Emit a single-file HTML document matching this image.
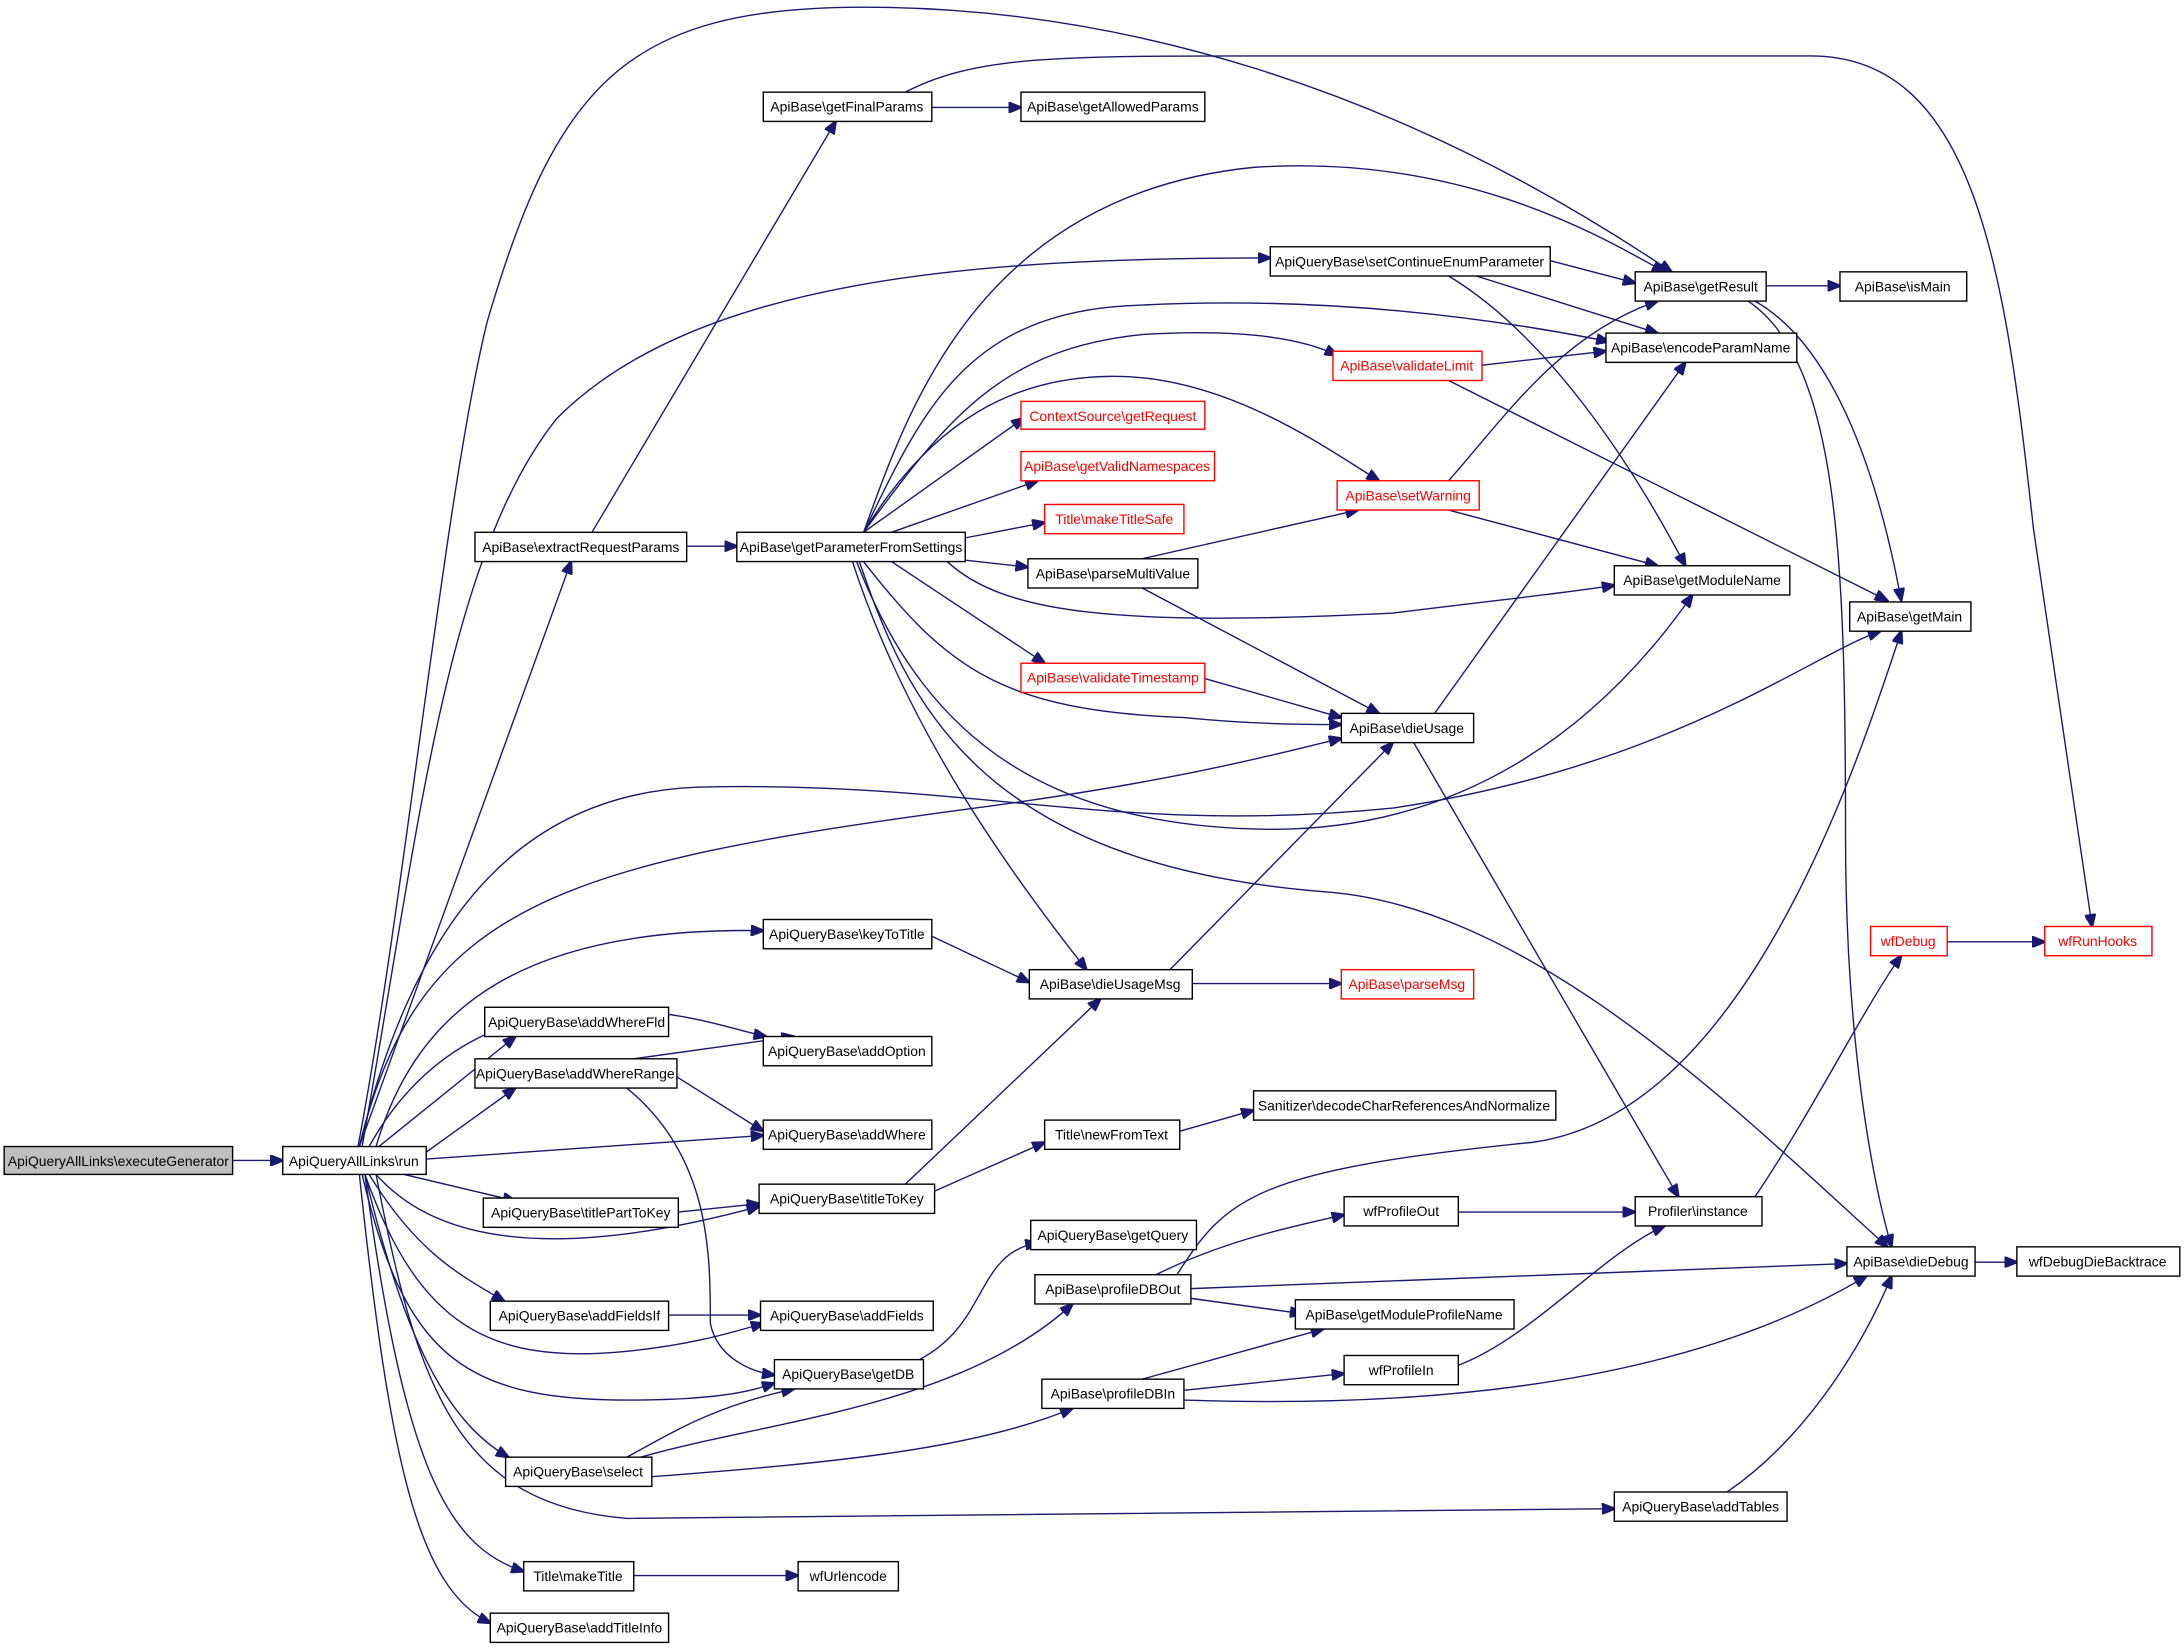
<!DOCTYPE html>
<html><head><meta charset="utf-8"><style>
html,body{margin:0;padding:0;background:#fff;}
svg{display:block;}
text{font-family:"Liberation Sans",sans-serif;font-size:10px;text-anchor:middle;fill:#000;}
.r text{fill:#f00;}
rect{fill:#fff;stroke:#000;stroke-width:1;}
.r rect{stroke:#f00;}
path{fill:none;stroke:#191970;stroke-width:1;marker-end:url(#a);}
</style></head><body>
<svg width="2184" height="1651" viewBox="0 0 1568 1185" xmlns="http://www.w3.org/2000/svg">
<defs><marker id="a" markerWidth="10" markerHeight="8" refX="9" refY="4" orient="auto" markerUnits="userSpaceOnUse"><polygon points="0,0 10,4 0,8" fill="#191970" stroke="#191970"/></marker></defs>
<g>
<path d="M167,833 L203,833"/>
<path d="M258,823 L410,403"/>
<path d="M257,823 C290,650 320,350 350,230 C400,60 450,5 620,5 C800,5 1000,60 1200,195"/>
<path d="M650,66 C700,40 760,40 900,40 L1300,40 C1420,40 1440,200 1460,380 C1480,520 1495,620 1502,665"/>
<path d="M669,77 L733,77"/>
<path d="M425,382 L600,87"/>
<path d="M493,392 L529,392"/>
<path d="M260,823 C300,600 320,400 400,300 C500,200 700,185 912,185"/>
<path d="M1113,187 L1174,203"/>
<path d="M1060,198 L1190,239"/>
<path d="M1040,198 C1110,240 1170,330 1210,406"/>
<path d="M620,382 C650,300 700,140 900,120 C1050,110 1150,170 1195,195"/>
<path d="M620,382 C660,300 690,230 800,220 C950,210 1080,230 1155,245"/>
<path d="M620,382 C680,300 720,250 820,240 C900,235 940,245 960,255"/>
<path d="M620,382 C670,300 730,270 800,270 C880,270 950,320 990,345"/>
<path d="M620,382 L735,300"/>
<path d="M640,382 L745,345"/>
<path d="M693,386 L750,375"/>
<path d="M693,402 L738,407"/>
<path d="M680,403 C720,440 800,450 1000,440 C1080,430 1130,425 1159,420"/>
<path d="M640,403 L750,476"/>
<path d="M620,403 C680,480 720,510 850,515 C900,520 940,520 963,520"/>
<path d="M615,403 C660,520 740,590 900,595 C1050,600 1150,520 1215,427"/>
<path d="M617,403 C650,500 700,620 950,640 C1100,650 1250,800 1355,895"/>
<path d="M612,403 C650,520 720,620 780,696"/>
<path d="M258,823 C300,650 380,570 500,565 C700,560 800,600 1000,580 C1200,550 1300,470 1350,453"/>
<path d="M258,823 C300,650 400,620 700,580 C850,560 920,540 963,530"/>
<path d="M820,401 L975,366"/>
<path d="M820,422 L990,512"/>
<path d="M865,487 L963,515"/>
<path d="M1064,262 L1153,252"/>
<path d="M1040,273 L1355,431"/>
<path d="M1040,345 C1080,300 1120,240 1190,216"/>
<path d="M1040,366 L1190,406"/>
<path d="M1030,512 L1210,260"/>
<path d="M1015,533 L1205,859"/>
<path d="M1268,205 L1321,205"/>
<path d="M1260,216 C1320,250 1350,350 1365,431"/>
<path d="M1255,216 C1320,260 1325,400 1325,600 C1325,750 1345,850 1358,895"/>
<path d="M1398,676 L1468,676"/>
<path d="M1260,859 C1300,800 1340,720 1365,686"/>
<path d="M1418,906 L1448,906"/>
<path d="M669,672 L739,705"/>
<path d="M856,706 L963,706"/>
<path d="M840,696 L1000,533"/>
<path d="M270,823 C300,720 380,665 548,668"/>
<path d="M265,823 C300,760 360,720 450,725 C500,728 530,740 550,744"/>
<path d="M272,823 L370,744"/>
<path d="M306,827 L370,781"/>
<path d="M306,832 L548,815"/>
<path d="M290,843 L370,862"/>
<path d="M270,843 C320,900 420,900 545,866"/>
<path d="M455,760 L570,744"/>
<path d="M486,773 L548,812"/>
<path d="M450,781 C510,830 510,900 510,950 C515,975 540,985 556,987"/>
<path d="M487,870 L545,864"/>
<path d="M650,850 L790,717"/>
<path d="M671,855 L750,820"/>
<path d="M847,812 L900,797"/>
<path d="M265,843 C300,900 330,915 362,934"/>
<path d="M480,944 L546,944"/>
<path d="M262,843 C300,950 350,980 450,970 C500,965 530,955 548,950"/>
<path d="M260,843 C290,970 330,1005 450,1005 C520,1005 540,998 556,993"/>
<path d="M262,843 C290,960 320,1020 365,1046"/>
<path d="M450,1046 C480,1030 510,1010 570,997"/>
<path d="M460,1046 C550,1020 690,1010 770,936"/>
<path d="M468,1060 C600,1050 700,1040 770,1011"/>
<path d="M660,976 C710,950 700,900 745,892"/>
<path d="M830,915 C880,890 930,880 965,872"/>
<path d="M855,932 L935,943"/>
<path d="M855,925 L1326,907"/>
<path d="M845,915 C880,860 900,840 1100,820 C1250,800 1330,560 1365,453"/>
<path d="M820,990 L950,954"/>
<path d="M850,998 L965,986"/>
<path d="M850,1005 C1000,1010 1200,1000 1340,916"/>
<path d="M1047,870 L1174,870"/>
<path d="M1047,980 C1100,960 1150,900 1195,880"/>
<path d="M270,843 C300,1000 330,1080 450,1090 L1159,1083"/>
<path d="M1240,1071 C1300,1030 1340,960 1358,916"/>
<path d="M262,843 C290,1050 320,1110 376,1128"/>
<path d="M455,1131 L573,1131"/>
<path d="M258,843 C280,1050 300,1140 352,1165"/>
</g>
<g>
<rect x="3" y="823" width="164" height="20" style="fill:#bfbfbf"/><text x="85" y="837">ApiQueryAllLinks\executeGenerator</text>
<rect x="203" y="823" width="103" height="20"/><text x="254" y="837">ApiQueryAllLinks\run</text>
<rect x="341" y="382" width="152" height="21"/><text x="417" y="396">ApiBase\extractRequestParams</text>
<rect x="548" y="66" width="121" height="21"/><text x="608" y="80">ApiBase\getFinalParams</text>
<rect x="733" y="66" width="132" height="21"/><text x="799" y="80">ApiBase\getAllowedParams</text>
<rect x="912" y="177" width="201" height="21"/><text x="1012" y="191">ApiQueryBase\setContinueEnumParameter</text>
<rect x="1174" y="195" width="94" height="21"/><text x="1221" y="209">ApiBase\getResult</text>
<rect x="1321" y="195" width="91" height="21"/><text x="1366" y="209">ApiBase\isMain</text>
<rect x="1153" y="239" width="137" height="21"/><text x="1221" y="253">ApiBase\encodeParamName</text>
<rect x="1159" y="406" width="126" height="21"/><text x="1222" y="420">ApiBase\getModuleName</text>
<rect x="1328" y="432" width="87" height="21"/><text x="1371" y="446">ApiBase\getMain</text>
<rect x="529" y="382" width="164" height="21"/><text x="611" y="396">ApiBase\getParameterFromSettings</text>
<rect x="738" y="401" width="122" height="21"/><text x="799" y="415">ApiBase\parseMultiValue</text>
<rect x="963" y="512" width="95" height="21"/><text x="1010" y="526">ApiBase\dieUsage</text>
<rect x="739" y="696" width="117" height="21"/><text x="797" y="710">ApiBase\dieUsageMsg</text>
<rect x="548" y="660" width="121" height="21"/><text x="608" y="674">ApiQueryBase\keyToTitle</text>
<rect x="548" y="744" width="121" height="21"/><text x="608" y="758">ApiQueryBase\addOption</text>
<rect x="348" y="723" width="132" height="21"/><text x="414" y="737">ApiQueryBase\addWhereFld</text>
<rect x="341" y="760" width="145" height="21"/><text x="413" y="774">ApiQueryBase\addWhereRange</text>
<rect x="548" y="804" width="121" height="21"/><text x="608" y="818">ApiQueryBase\addWhere</text>
<rect x="900" y="783" width="217" height="21"/><text x="1008" y="797">Sanitizer\decodeCharReferencesAndNormalize</text>
<rect x="750" y="804" width="97" height="21"/><text x="798" y="818">Title\newFromText</text>
<rect x="347" y="860" width="140" height="21"/><text x="417" y="874">ApiQueryBase\titlePartToKey</text>
<rect x="545" y="850" width="126" height="21"/><text x="608" y="864">ApiQueryBase\titleToKey</text>
<rect x="740" y="876" width="119" height="21"/><text x="799" y="890">ApiQueryBase\getQuery</text>
<rect x="743" y="915" width="112" height="21"/><text x="799" y="929">ApiBase\profileDBOut</text>
<rect x="965" y="859" width="82" height="21"/><text x="1006" y="873">wfProfileOut</text>
<rect x="1174" y="859" width="91" height="21"/><text x="1219" y="873">Profiler\instance</text>
<rect x="1326" y="895" width="92" height="21"/><text x="1372" y="909">ApiBase\dieDebug</text>
<rect x="1448" y="895" width="117" height="21"/><text x="1506" y="909">wfDebugDieBacktrace</text>
<rect x="930" y="933" width="157" height="21"/><text x="1008" y="947">ApiBase\getModuleProfileName</text>
<rect x="352" y="934" width="128" height="21"/><text x="416" y="948">ApiQueryBase\addFieldsIf</text>
<rect x="546" y="934" width="124" height="21"/><text x="608" y="948">ApiQueryBase\addFields</text>
<rect x="965" y="973" width="82" height="21"/><text x="1006" y="987">wfProfileIn</text>
<rect x="556" y="976" width="107" height="21"/><text x="609" y="990">ApiQueryBase\getDB</text>
<rect x="748" y="990" width="102" height="21"/><text x="799" y="1004">ApiBase\profileDBIn</text>
<rect x="363" y="1046" width="105" height="21"/><text x="415" y="1060">ApiQueryBase\select</text>
<rect x="1159" y="1071" width="124" height="21"/><text x="1221" y="1085">ApiQueryBase\addTables</text>
<rect x="376" y="1121" width="79" height="21"/><text x="415" y="1135">Title\makeTitle</text>
<rect x="573" y="1121" width="72" height="21"/><text x="609" y="1135">wfUrlencode</text>
<rect x="352" y="1158" width="128" height="21"/><text x="416" y="1172">ApiQueryBase\addTitleInfo</text>
</g>
<g class="r">
<rect x="957" y="252" width="107" height="21"/><text x="1010" y="266">ApiBase\validateLimit</text>
<rect x="733" y="288" width="132" height="20"/><text x="799" y="302">ContextSource\getRequest</text>
<rect x="733" y="324" width="139" height="21"/><text x="802" y="338">ApiBase\getValidNamespaces</text>
<rect x="750" y="362" width="100" height="21"/><text x="800" y="376">Title\makeTitleSafe</text>
<rect x="960" y="345" width="102" height="21"/><text x="1011" y="359">ApiBase\setWarning</text>
<rect x="733" y="476" width="132" height="21"/><text x="799" y="490">ApiBase\validateTimestamp</text>
<rect x="963" y="696" width="95" height="21"/><text x="1010" y="710">ApiBase\parseMsg</text>
<rect x="1343" y="665" width="55" height="21"/><text x="1370" y="679">wfDebug</text>
<rect x="1468" y="665" width="77" height="21"/><text x="1506" y="679">wfRunHooks</text>
</g>
</svg>
</body></html>
